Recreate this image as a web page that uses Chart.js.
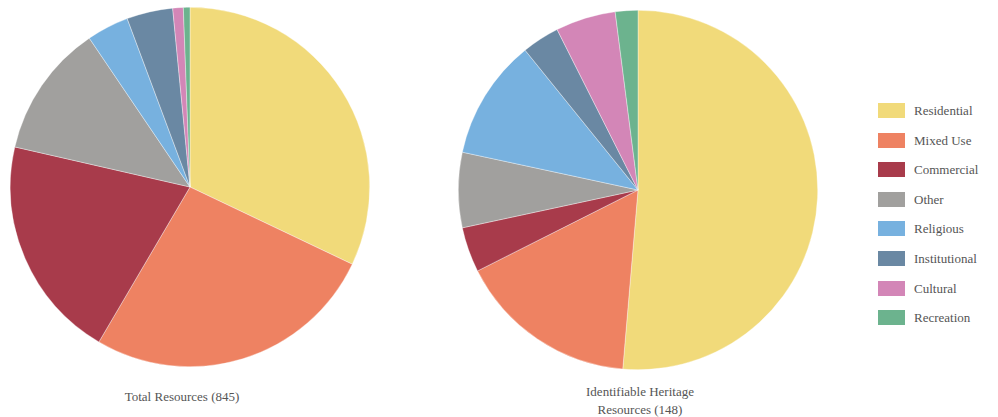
<!DOCTYPE html>
<html>
<head>
<meta charset="utf-8">
<script src="https://cdn.jsdelivr.net/npm/chart.js@4"></script>
<style>
  body { margin: 0; background: #fff; width: 998px; height: 417px; overflow: hidden; position: relative; font-family: "Liberation Serif", "DejaVu Serif", serif; color: #555; }
  .box { position: absolute; width: 360px; height: 360px; }
  .cap { position: absolute; font-size: 13px; text-align: center; line-height: 18px; color: #555; }
  #legend { position: absolute; left: 878px; top: 103px; }
  .item { height: 29.6px; display: flex; align-items: flex-start; font-size: 13px; }
  .sw { width: 27px; height: 15px; margin-right: 9px; }
  .lbl { line-height: 15px; }
</style>
</head>
<body>
<div class="box" style="left:10px; top:7px;"><canvas id="pieTotal"></canvas></div>
<div class="box" style="left:458px; top:10px;"><canvas id="pieHeritage"></canvas></div>
<div class="cap" style="left:82px; top:388px; width:200px;">Total Resources (845)</div>
<div class="cap" style="left:540px; top:383px; width:200px;">Identifiable Heritage<br>Resources (148)</div>
<div id="legend"></div>

<script>
// 분류 이름
let categories = ["Residential", "Mixed Use", "Commercial", "Other", "Religious", "Institutional", "Cultural", "Recreation"];
// 전체 자원 (845)
let totalValues = [271, 223, 170, 101, 32, 35, 8, 5];
// 식별 가능한 유산 자원 (148)
let heritageValues = [76, 24, 6, 10, 16, 5, 8, 3];
let colors = ["#f1da7a", "#ee8262", "#a83b4b", "#a1a09e", "#77b1df", "#6a88a3", "#d386b7", "#6cb38e"];

function make_pie(id, values) {
    let ctx = document.getElementById(id).getContext("2d");
    return new Chart(ctx, {
        type: "pie",
        data: {
            labels: categories,
            datasets: [{
                data: values,
                backgroundColor: colors,
                borderColor: "rgba(255,255,255,0.6)",
                borderWidth: 0.6,
            }]
        },
        options: {
            animation: false,
            responsive: true,
            maintainAspectRatio: false,
            layout: { padding: 0 },
            plugins: {
                legend: { display: false },
                tooltip: { enabled: false }
            }
        }
    });
}

make_pie("pieTotal", totalValues);
make_pie("pieHeritage", heritageValues);

// 범례 만들기
let legend = document.getElementById("legend");
for (let i = 0; i < categories.length; i++) {
    let row = document.createElement("div");
    row.className = "item";
    row.innerHTML = '<div class="sw" style="background:' + colors[i] + '"></div><div class="lbl">' + categories[i] + '</div>';
    legend.appendChild(row);
}
</script>
</body>
</html>
